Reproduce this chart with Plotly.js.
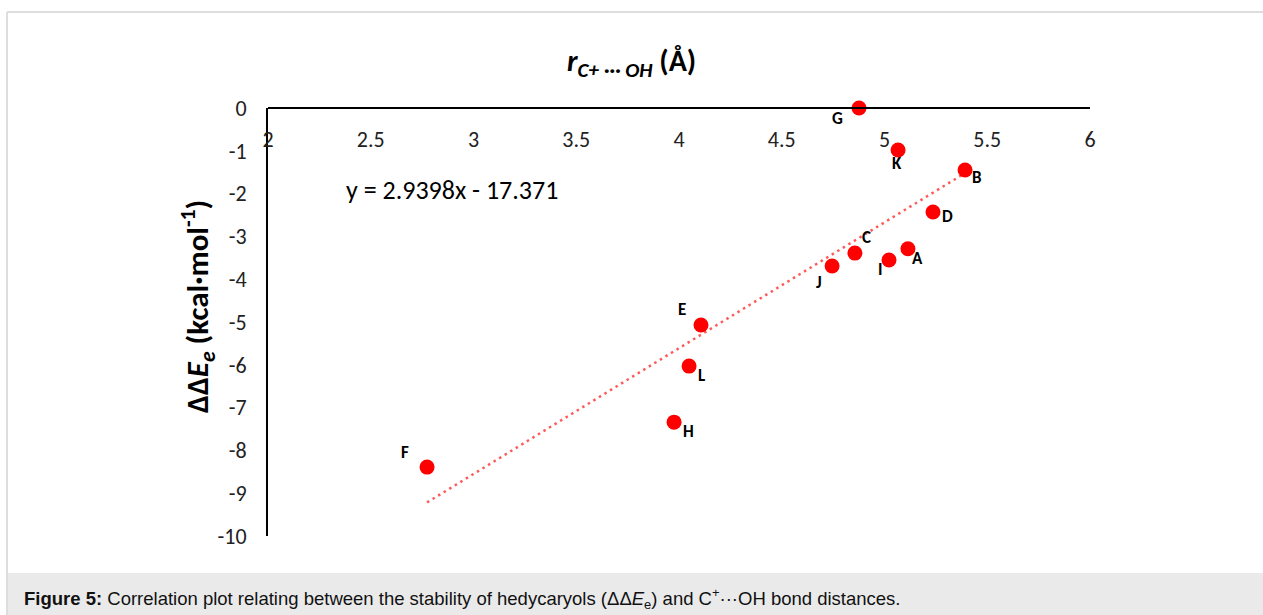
<!DOCTYPE html>
<html>
<head>
<meta charset="utf-8">
<script src="https://cdn.plot.ly/plotly-3.0.1.min.js"></script>
<style>
  html, body { margin: 0; padding: 0; background: #fff; }
  #chart { width: 1263px; height: 615px; }
</style>
</head>
<body>
<div id="chart"></div>
<script>
// ---- data ----
const pointLabels = ['A','B','C','D','E','F','G','H','I','J','K','L'];
const rDistance = [5.114, 5.392, 4.856, 5.236, 4.107, 2.774, 4.876, 3.976, 5.022, 4.745, 5.066, 4.049];
const deltaDeltaE = [-3.29, -1.45, -3.39, -2.43, -5.07, -8.39, 0.00, -7.34, -3.55, -3.69, -0.98, -6.03];
const xTickVals = [2, 2.5, 3, 3.5, 4, 4.5, 5, 5.5, 6];
const xTickText = ['2', '2.5', '3', '3.5', '4', '4.5', '5', '5.5', '6'];
const yTickVals = [0, -1, -2, -3, -4, -5, -6, -7, -8, -9, -10];
const yTickText = ['0', '-1', '-2', '-3', '-4', '-5', '-6', '-7', '-8', '-9', '-10'];
const trendSlope = 2.9398;
const trendIntercept = -17.371;
const trendEquation = 'y = 2.9398x - 17.371';
const captionText = '<b>Figure 5:</b> Correlation plot relating between the stability of hedycaryols (ΔΔ<i>E</i><sub>e</sub>) and C<sup>+</sup>···OH bond distances.';

// ---- styling (label offsets in px) ----
const labelOffsets = {
  A: [10, 10], B: [12, 7], C: [12, -16], D: [14, 4], E: [-19, -16], F: [-22, -15],
  G: [-22, 10], H: [14, 9], I: [-9, 10], J: [-13, 17], K: [-1, 14], L: [12, 9]
};
const FONT = 'Carlito, Lato, "Open Sans", sans-serif';

const xMin = Math.min(...rDistance), xMax = Math.max(...rDistance);
const trendX = [xMin, xMax];
const trendY = trendX.map(x => trendSlope * x + trendIntercept);

const traces = [
  {
    x: trendX, y: trendY, type: 'scatter', mode: 'lines',
    line: { color: '#FF5A5A', width: 2.5, dash: '2.5px,4px' },
    hoverinfo: 'skip', showlegend: false
  },
  {
    x: rDistance, y: deltaDeltaE, type: 'scatter', mode: 'markers',
    marker: { color: '#FF0000', size: 15 },
    cliponaxis: false, showlegend: false
  }
];

// plot area pixels: left 268, right 1090, top 108, bottom 536
const PL = 268, PR = 1090, PT = 108, PB = 536;
const px = v => (v - PL) / (PR - PL);
const py = v => (PB - v) / (PB - PT);

const annotations = pointLabels.map((lab, i) => ({
  x: rDistance[i], y: deltaDeltaE[i], xref: 'x', yref: 'y',
  text: '<b>' + lab + '</b>', showarrow: false,
  xshift: labelOffsets[lab][0], yshift: -labelOffsets[lab][1],
  font: { family: FONT, size: 17, color: '#000' }
}));

annotations.push({
  x: 2.37, y: -1.92, xref: 'x', yref: 'y', xanchor: 'left', yanchor: 'middle',
  text: trendEquation, showarrow: false,
  font: { family: FONT, size: 26, color: '#000' }
});
annotations.push({
  x: px(631), y: py(62), xref: 'paper', yref: 'paper', xanchor: 'center', yanchor: 'middle',
  text: '<b><i>r</i><sub><i>C+ ··· OH</i></sub> (Å)</b>', showarrow: false,
  font: { family: FONT, size: 30, color: '#000' }
});
annotations.push({
  x: px(197), y: py(307), xref: 'paper', yref: 'paper', xanchor: 'center', yanchor: 'middle',
  textangle: -90,
  text: '<b>ΔΔ<i>E</i><sub><i>e</i></sub> (kcal·mol<sup>-1</sup>)</b>', showarrow: false,
  font: { family: FONT, size: 31, color: '#000' }
});
annotations.push({
  x: px(22), y: py(598), xref: 'paper', yref: 'paper', xanchor: 'left', yanchor: 'middle',
  text: captionText, showarrow: false,
  font: { family: 'Liberation Sans, Arial, sans-serif', size: 18.5, color: '#111' }
});

const shapes = [
  { type: 'rect', xref: 'paper', yref: 'paper', x0: px(8), x1: px(1263), y0: py(573), y1: py(615),
    fillcolor: '#EAEAEA', line: { width: 0 }, layer: 'below' },
  { type: 'line', xref: 'paper', yref: 'paper', x0: px(7), x1: px(7), y0: py(12), y1: py(615),
    line: { color: '#DDDDDD', width: 2 } },
  { type: 'line', xref: 'paper', yref: 'paper', x0: px(7), x1: px(1263), y0: py(12), y1: py(12),
    line: { color: '#DDDDDD', width: 2 } }
];

const layout = {
  width: 1263, height: 615,
  margin: { l: PL, r: 1263 - PR, t: PT, b: 615 - PB, pad: 0 },
  paper_bgcolor: '#fff', plot_bgcolor: '#fff',
  showlegend: false,
  xaxis: {
    range: [2, 6], tickvals: xTickVals, ticktext: xTickText,
    anchor: 'free', position: 1, side: 'bottom',
    showline: true, linecolor: '#000', linewidth: 2,
    showgrid: false, zeroline: false, ticks: '',
    ticklabelstandoff: 12,
    tickfont: { family: FONT, size: 22, color: '#222' }
  },
  yaxis: {
    range: [-10, 0], tickvals: yTickVals, ticktext: yTickText,
    showline: true, linecolor: '#000', linewidth: 2,
    showgrid: false, zeroline: false, ticks: '',
    ticklabelstandoff: 15,
    tickfont: { family: FONT, size: 22, color: '#222' }
  },
  annotations: annotations,
  shapes: shapes
};

Plotly.newPlot('chart', traces, layout, { displayModeBar: false, staticPlot: true });
</script>
</body>
</html>
